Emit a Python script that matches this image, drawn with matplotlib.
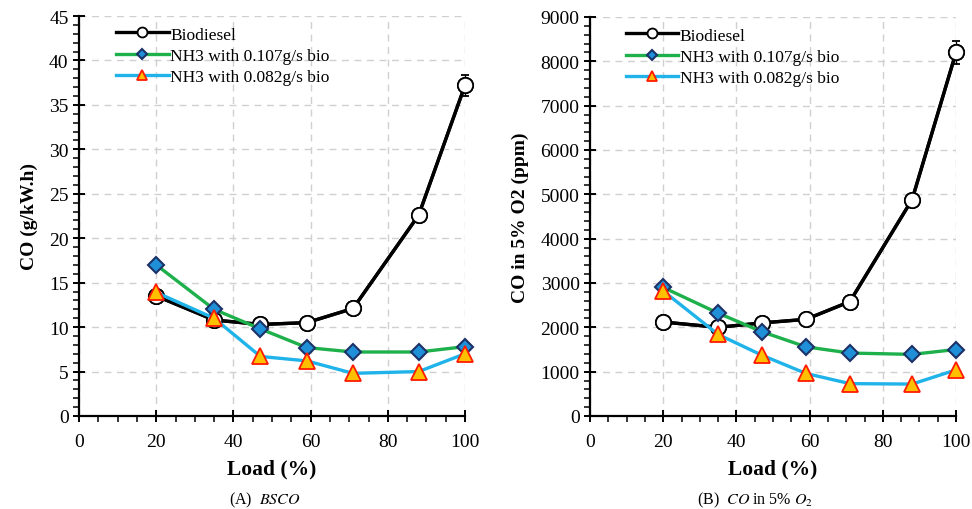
import matplotlib
matplotlib.use("Agg")
import matplotlib.pyplot as plt
from matplotlib.ticker import MultipleLocator

plt.rcParams['font.family'] = ['Liberation Serif', 'DejaVu Serif']
plt.rcParams['mathtext.fontset'] = 'stix'

load = [20, 35, 47, 59, 71, 88, 100]

bsco_bio = [13.5, 10.8, 10.3, 10.5, 12.1, 22.6, 37.2]
bsco_107 = [17.0, 12.0, 9.8, 7.7, 7.2, 7.2, 7.8]
bsco_082 = [13.9, 11.0, 6.7, 6.2, 4.8, 5.0, 7.0]
bsco_bio_err = [0.4, 0.3, 0.3, 0.3, 0.3, 0.4, 1.2]

co_bio = [2120, 2000, 2100, 2180, 2580, 4880, 8200]
co_107 = [2900, 2320, 1900, 1560, 1420, 1390, 1500]
co_082 = [2820, 1840, 1370, 960, 730, 720, 1040]
co_bio_err = [60, 50, 50, 50, 60, 80, 250]

labels = ["Biodiesel", "NH3 with 0.107g/s bio", "NH3 with 0.082g/s bio"]

fig = plt.figure(figsize=(9.72, 5.10), dpi=100)
ax1 = fig.add_axes([79/972, 1-417/510, 386/972, 400/510])
ax2 = fig.add_axes([590/972, 1-417/510, 366/972, 399/510])

def draw(ax, bio, bio_err, s107, s082, ymax, ymajor, yminor, ylabel):
    eb = ax.errorbar(load, bio, yerr=bio_err, color='black', lw=2.4, marker='o',
                     ms=11, mfc='white', mec='black', mew=1.3, capsize=3,
                     elinewidth=1, zorder=3)
    for art in eb.lines[0:1] + tuple(eb.lines[1]) + tuple(eb.lines[2]):
        art.set_clip_on(False)
    ax.plot(load, bio, color='black', lw=2.4, marker='o', ms=11, mfc='white',
            mec='black', mew=1.3, zorder=3, clip_on=False)
    h1, = ax.plot([], [], color='black', lw=2.4, marker='o', ms=11, mfc='white',
                  mec='black', mew=1.3)
    h2, = ax.plot(load, s107, color='#1db04b', lw=2.4, marker='D', ms=8.5,
                  mfc='#1f8fd8', mec='#1c3266', mew=1.5, zorder=4, clip_on=False)
    h3, = ax.plot(load, s082, color='#1fb3ea', lw=2.4, marker='^', ms=11,
                  mfc='#ffc000', mec='#ff1a00', mew=1.3, zorder=5, clip_on=False)
    ax.set_xlim(0, 100)
    ax.set_ylim(0, ymax)
    ax.xaxis.set_major_locator(MultipleLocator(20))
    ax.xaxis.set_minor_locator(MultipleLocator(5))
    ax.yaxis.set_major_locator(MultipleLocator(ymajor))
    ax.yaxis.set_minor_locator(MultipleLocator(yminor))
    ax.tick_params(which='major', direction='inout', length=9, width=1.4,
                   labelsize=14, pad=3)
    ax.tick_params(axis='x', which='major', pad=8)
    ax.tick_params(which='minor', direction='out', length=4, width=1.1)
    for s in ['top', 'right']:
        ax.spines[s].set_visible(False)
    for s in ['left', 'bottom']:
        ax.spines[s].set_linewidth(1.6)
    ax.grid(True, which='major', ls=(0, (5, 4)), color='#d0d0d0', lw=1.0)
    ax.set_axisbelow(True)
    ax.set_xlabel("Load (%)", fontsize=15.5, fontweight='bold', labelpad=6)
    ax.set_ylabel(ylabel, fontsize=14, fontweight='bold', labelpad=8)
    ax.legend([h1, h2, h3], labels, loc='upper left', bbox_to_anchor=(0.07, 1.0),
              frameon=False, fontsize=12.5, markerscale=0.65, handlelength=3.0,
              handletextpad=0.1, labelspacing=0.3, borderaxespad=0.2)

draw(ax1, bsco_bio, bsco_bio_err, bsco_107, bsco_082, 45, 5, 1, "CO (g/kW.h)")
draw(ax2, co_bio, co_bio_err, co_107, co_082, 9000, 1000, 200, "CO in 5% O2 (ppm)")

fig.text(265/972, 1-500/510, r"(A)  $BSCO$", ha='center', va='center', fontsize=11.5)
fig.text(755/972, 1-500/510, r"(B)  $CO$ in 5% $O_2$", ha='center', va='center', fontsize=11.5)

fig.savefig("out.png", dpi=100)
